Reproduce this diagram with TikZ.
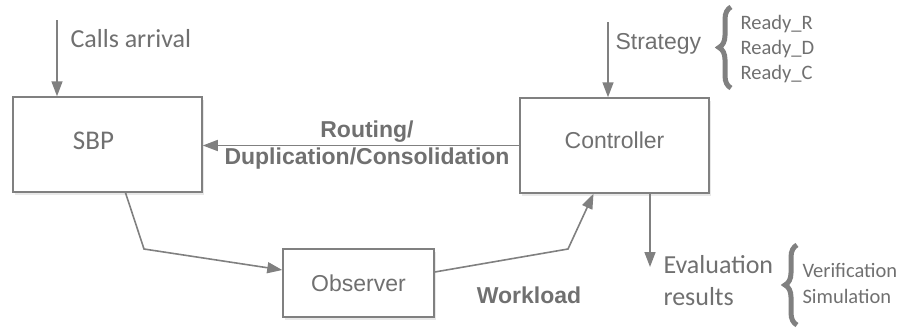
\documentclass[tikz,border=0pt]{standalone}
\usepackage{fontspec}
\setmainfont{Carlito}
\newfontfamily\arialfont{Liberation Sans}
\usetikzlibrary{arrows.meta,shadows,decorations.pathreplacing}

\definecolor{linegray}{RGB}{128,128,128}
\definecolor{textgray}{RGB}{112,112,112}

\begin{document}
\begin{tikzpicture}[x=1pt,y=-1pt,
        box/.style={draw=linegray, line width=1.5pt, fill=white, inner sep=0pt,
            drop shadow={opacity=0.18, shadow xshift=2pt, shadow yshift=-3pt}},
        boxtext/.style={text=textgray, font=\arialfont\fontsize{23}{27}\selectfont},
        flow/.style={draw=linegray, line width=1.6pt, -{Triangle[length=15pt,width=11pt]}},
        bigtext/.style={text=textgray, font=\fontsize{26}{32}\selectfont, align=left},
        smalltext/.style={text=textgray, font=\fontsize{20.5}{25}\selectfont, align=left},
        boldtext/.style={text=textgray, font=\arialfont\bfseries\fontsize{23}{27}\selectfont, align=center},
        bracket/.style={draw=linegray, line width=5pt, decorate,
            decoration={brace, amplitude=12pt}}]
    \useasboundingbox (0,0) rectangle (903,327);

    % boxes
    \node[box, minimum width=189pt, minimum height=95pt] (sbp) at (107.5,144.5) {};
    \node[bigtext, font=\fontsize{27}{32}\selectfont] (sbptext) at ([xshift=-14pt,yshift=4pt]sbp.center) {SBP};
    \node[box, minimum width=189pt, minimum height=95pt] (ctrl) at (614.5,145.5) {};
    \node[boxtext] (ctrltext) at ([yshift=5pt]ctrl.center) {Controller};
    \node[box, minimum width=151pt, minimum height=68pt] (obs) at (358.5,283) {};
    \node[boxtext] (obstext) at (obs.center) {Observer};

    % inputs
    \coordinate (callin) at (57,20);
    \draw[flow] (callin) -- (callin |- sbp.north);
    \node[bigtext, anchor=west] (calls) at (67,39) {Calls arrival};

    \coordinate (stratin) at (608,22);
    \draw[flow] (stratin) -- (stratin |- ctrl.north);
    \node[boxtext, anchor=west] (strat) at (612,44) {Strategy};
    \draw[bracket] (731,88) -- (731,7);
    \node[smalltext, anchor=west] (readyr) at (737,24) {Ready\_R};
    \node[smalltext, anchor=west] (readyd) at (737,49) {Ready\_D};
    \node[smalltext, anchor=west] (readyc) at (737,74) {Ready\_C};

    % loop
    \draw[flow] (ctrl.west) -- (ctrl.west -| sbp.east);
    \node[boldtext] (routing) at (367,145) {Routing/\\Duplication/Consolidation};

    \coordinate (bendl) at (144,249);
    \draw[flow] ([xshift=18pt]sbp.south) -- (bendl) -- ([yshift=13pt]obs.west);
    \coordinate (bendr) at (568,249);
    \draw[flow] ([yshift=11pt]obs.east) -- (bendr) -- ([xshift=-21pt]ctrl.south);
    \node[boldtext] (work) at (529,295) {Workload};

    % output
    \coordinate (evalout) at (650,267);
    \draw[flow] ([xshift=35.5pt]ctrl.south) -- (evalout);
    \node[bigtext, anchor=west] (evalres) at (660,281) {Evaluation\\results};
    \draw[bracket] (797,325) -- (797,245);
    \node[smalltext, anchor=west] (verif) at (799,270) {Verification};
    \node[smalltext, anchor=west] (simul) at (799,296) {Simulation};
\end{tikzpicture}
\end{document}
